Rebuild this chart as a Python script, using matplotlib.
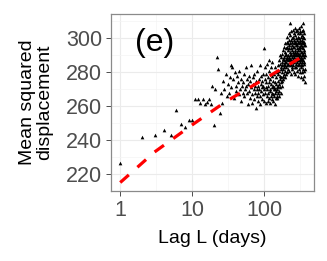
import matplotlib
matplotlib.use("Agg")
import matplotlib.pyplot as plt
import numpy as np

plt.rcParams['font.family'] = ['Liberation Sans', 'DejaVu Sans']

lags = list(range(1, 366))
msd = [
    226.6, 242, 243, 246, 243, 257.5, 249.5, 247.5, 252, 252, 264.5, 264, 262, 264, 261.5, 262.5, 264, 261, 272, 249, 270, 289, 282, 256, 268,
    262, 275, 270, 279, 266, 273, 268, 277, 284, 271, 283, 276, 265, 280, 272, 269, 278, 274, 267, 281, 270, 263, 276, 272, 268,
    274, 279, 266, 270, 283, 272, 268, 276, 261, 273, 278, 269, 265, 275, 271, 284, 267, 262, 273, 277, 270, 264, 279, 268, 272,
    259, 275, 270, 266, 281, 272, 263, 268, 276, 270, 284, 266, 261, 273, 278, 269, 264, 275, 271, 267, 279, 272, 263, 270, 294,
    276, 268, 283, 271, 262, 279, 274, 266, 285, 270, 263, 277, 272, 268, 281, 265, 274, 287, 270, 262, 276, 269, 283, 273, 266,
    278, 271, 264, 268, 286, 272, 267, 275, 263, 270, 279, 266, 271, 261, 274, 268, 283, 270, 265, 273, 269, 277, 266, 271, 280,
    270, 265, 275, 284, 268, 272, 279, 266, 287, 273, 269, 281, 276, 290, 271, 278, 285, 274, 282, 268, 289, 277, 283, 272, 286,
    280, 291, 275, 284, 288, 278, 293, 282, 276, 289, 285, 295, 279, 287, 283, 292, 277, 290, 286, 281, 297, 284, 288, 279, 294,
    286, 291, 283, 298, 288, 280, 295, 289, 284, 301, 287, 293, 282, 297, 290, 285, 299, 288, 294, 281, 296, 289, 303, 286, 292,
    309, 290, 284, 297, 288, 302, 285, 294, 279, 299, 291, 287, 304, 283, 296, 289, 300, 286, 293, 282, 298, 290, 305, 287, 295,
    284, 301, 292, 288, 297, 280, 303, 291, 286, 299, 289, 295, 283, 306, 290, 298, 287, 293, 279, 302, 292, 288, 296, 285, 300,
    291, 287, 304, 283, 297, 290, 294, 281, 299, 288, 305, 292, 286, 296, 284, 301, 290, 298, 287, 293, 278, 303, 291, 295, 288,
    300, 285, 294, 289, 306, 282, 297, 291, 303, 287, 295, 280, 299, 290, 304, 286, 293, 298, 284, 301, 289, 296, 277, 292, 307,
    288, 296, 283, 302, 290, 298, 286, 304, 292, 280, 299, 288, 295, 284, 301, 291, 297, 276, 294, 287, 305, 290, 282, 298, 309,
    293, 286, 300, 281, 296, 289, 303, 278, 292, 298, 285, 274, 290, 296, 282,
]

fit_lags = [1, 3, 10, 30, 100, 365]
fit_vals = [215, 233, 249, 263, 276, 290]

xticks = [1, 10, 100]
xticklabels = ["1", "10", "100"]
yticks = [220, 240, 260, 280, 300]

fig = plt.figure(figsize=(3.27, 2.61), dpi=100)
ax = fig.add_axes([111/327, 1 - 191/261, (314 - 111)/327, (191 - 14)/261])

ax.scatter(lags, msd, marker='^', s=7, color='black', linewidths=0, zorder=3)
ax.plot(fit_lags, fit_vals, color='#ff0000', lw=2.3, ls=(0, (3.6, 3.6)),
        dash_capstyle='butt', zorder=4)

ax.set_xscale('log')
lo, hi = np.log10(1), np.log10(365)
ex = (hi - lo) * 0.05
ax.set_xlim(10 ** (lo - ex), 10 ** (hi + ex))
ax.set_ylim(210.2, 314.3)

ax.set_xticks(xticks)
ax.set_xticklabels(xticklabels)
ax.set_xticks([10 ** 0.5, 10 ** 1.5, 10 ** 2.5], minor=True)
ax.set_yticks(yticks)
ax.set_yticks([210, 230, 250, 270, 290, 310], minor=True)
ax.xaxis.set_minor_formatter(plt.NullFormatter())

ax.grid(True, which='major', color='#ebebeb', lw=0.8)
ax.grid(True, which='minor', color='#f4f4f4', lw=0.5)
ax.set_axisbelow(True)

for s in ax.spines.values():
    s.set_color('#8a8a8a')
    s.set_linewidth(0.9)

ax.tick_params(which='major', direction='out', length=3.8, width=0.7, color='#4d4d4d',
               labelsize=15.5, labelcolor='#4d4d4d', pad=2.5)
ax.tick_params(which='minor', length=0)

ax.set_xlabel("Lag L (days)", fontsize=14, color='black', labelpad=7)
ax.set_ylabel("Mean squared\ndisplacement", fontsize=14, color='black', labelpad=9,
              linespacing=1.05)

ax.text(0.12, 0.835, "(e)", transform=ax.transAxes, fontsize=23, color='black',
        ha='left', va='center')

fig.savefig("out.png", dpi=100)
